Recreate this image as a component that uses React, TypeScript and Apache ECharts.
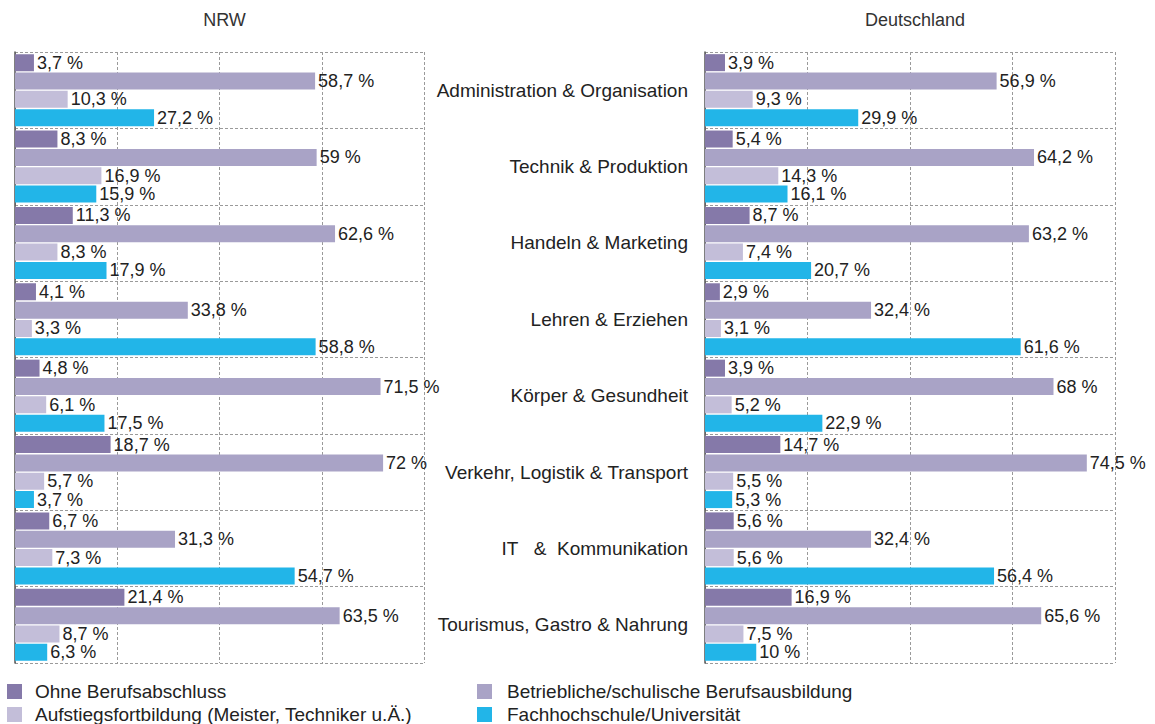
import React, { useEffect, useRef } from "react";
import * as echarts from "echarts";

const categories = [
  "Administration & Organisation",
  "Technik & Produktion",
  "Handeln & Marketing",
  "Lehren & Erziehen",
  "Körper & Gesundheit",
  "Verkehr, Logistik & Transport",
  "IT   &  Kommunikation",
  "Tourismus, Gastro & Nahrung",
];

const seriesNames = [
  "Ohne Berufsabschluss",
  "Betriebliche/schulische Berufsausbildung",
  "Aufstiegsfortbildung (Meister, Techniker u.Ä.)",
  "Fachhochschule/Universität",
];

const seriesColors = ["#8579a9", "#a9a3c6", "#c3bed9", "#22b5e8"];

const nrwOhne = [3.7, 8.3, 11.3, 4.1, 4.8, 18.7, 6.7, 21.4];
const nrwBetrieb = [58.7, 59, 62.6, 33.8, 71.5, 72, 31.3, 63.5];
const nrwAufstieg = [10.3, 16.9, 8.3, 3.3, 6.1, 5.7, 7.3, 8.7];
const nrwFH = [27.2, 15.9, 17.9, 58.8, 17.5, 3.7, 54.7, 6.3];

const deOhne = [3.9, 5.4, 8.7, 2.9, 3.9, 14.7, 5.6, 16.9];
const deBetrieb = [56.9, 64.2, 63.2, 32.4, 68, 74.5, 32.4, 65.6];
const deAufstieg = [9.3, 14.3, 7.4, 3.1, 5.2, 5.5, 5.6, 7.5];
const deFH = [29.9, 16.1, 20.7, 61.6, 22.9, 5.3, 56.4, 10];

const panelTitles = ["NRW", "Deutschland"];

const FONT = "'Liberation Sans', Arial, sans-serif";

export default function App() {
  const ref = useRef<HTMLDivElement>(null);

  useEffect(() => {
    if (!ref.current) return;
    const chart = echarts.init(ref.current, undefined, { renderer: "svg" });

    const dashed = { color: "#9a9a9a", width: 1, type: [3, 2] as any };

    const panels = [
      [nrwOhne, nrwBetrieb, nrwAufstieg, nrwFH],
      [deOhne, deBetrieb, deAufstieg, deFH],
    ];

    const series: any[] = [];
    panels.forEach((panel, gi) => {
      panel.forEach((vals, si) => {
        series.push({
          type: "bar",
          name: seriesNames[si],
          xAxisIndex: gi,
          yAxisIndex: gi,
          data: vals,
          barWidth: 17,
          barGap: "8%",
          itemStyle: { color: seriesColors[si] },
          label: {
            show: true,
            position: "right",
            distance: 3,
            fontFamily: FONT,
            fontSize: 18,
            color: "#222",
            formatter: (p: any) => String(p.value).replace(".", ",") + " %",
          },
        });
      });
    });

    const grids = [
      { left: 15, top: 52, width: 409, height: 611 },
      { left: 705, top: 52, width: 410, height: 611 },
    ];

    // legend slots: [seriesIndex, left, top]
    const legendSlots: [number, number, number][] = [
      [0, 7, 682],
      [1, 477, 682],
      [2, 7, 705],
      [3, 477, 705],
    ];

    chart.setOption({
      animation: false,
      textStyle: { fontFamily: FONT },
      title: panelTitles.map((t, i) => ({
        text: t,
        left: grids[i].left + grids[i].width / 2,
        top: 6,
        textAlign: "center",
        textStyle: { fontFamily: FONT, fontSize: 18, fontWeight: "normal", color: "#333" },
      })),
      grid: grids,
      xAxis: grids.map((_, i) => ({
        type: "value",
        gridIndex: i,
        min: 0,
        max: 80,
        interval: 20,
        axisLabel: { show: false },
        axisLine: { show: false },
        axisTick: { show: false },
        splitLine: { show: true, lineStyle: dashed },
      })),
      yAxis: grids.map((_, i) => ({
        type: "category",
        gridIndex: i,
        data: categories,
        inverse: true,
        axisTick: { show: false },
        axisLine: { show: true, lineStyle: { color: "#555", width: 1.5 } },
        splitLine: { show: true, lineStyle: dashed },
        axisLabel: {
          show: i === 1,
          margin: 17,
          fontFamily: FONT,
          fontSize: 19,
          color: "#222",
        },
      })),
      legend: legendSlots.map(([si, left, top]) => ({
        data: [seriesNames[si]],
        left,
        top,
        padding: 0,
        itemWidth: 15,
        itemHeight: 15,
        icon: "rect",
        selectedMode: false,
        textStyle: { fontFamily: FONT, fontSize: 19, color: "#222", padding: [0, 0, 0, si % 2 === 0 ? 8 : 10] },
      })),
      series,
    });

    return () => chart.dispose();
  }, []);

  return (
    <div
      ref={ref}
      style={{ position: "fixed", left: 0, top: 0, width: 1155, height: 724, background: "#fff" }}
    />
  );
}
